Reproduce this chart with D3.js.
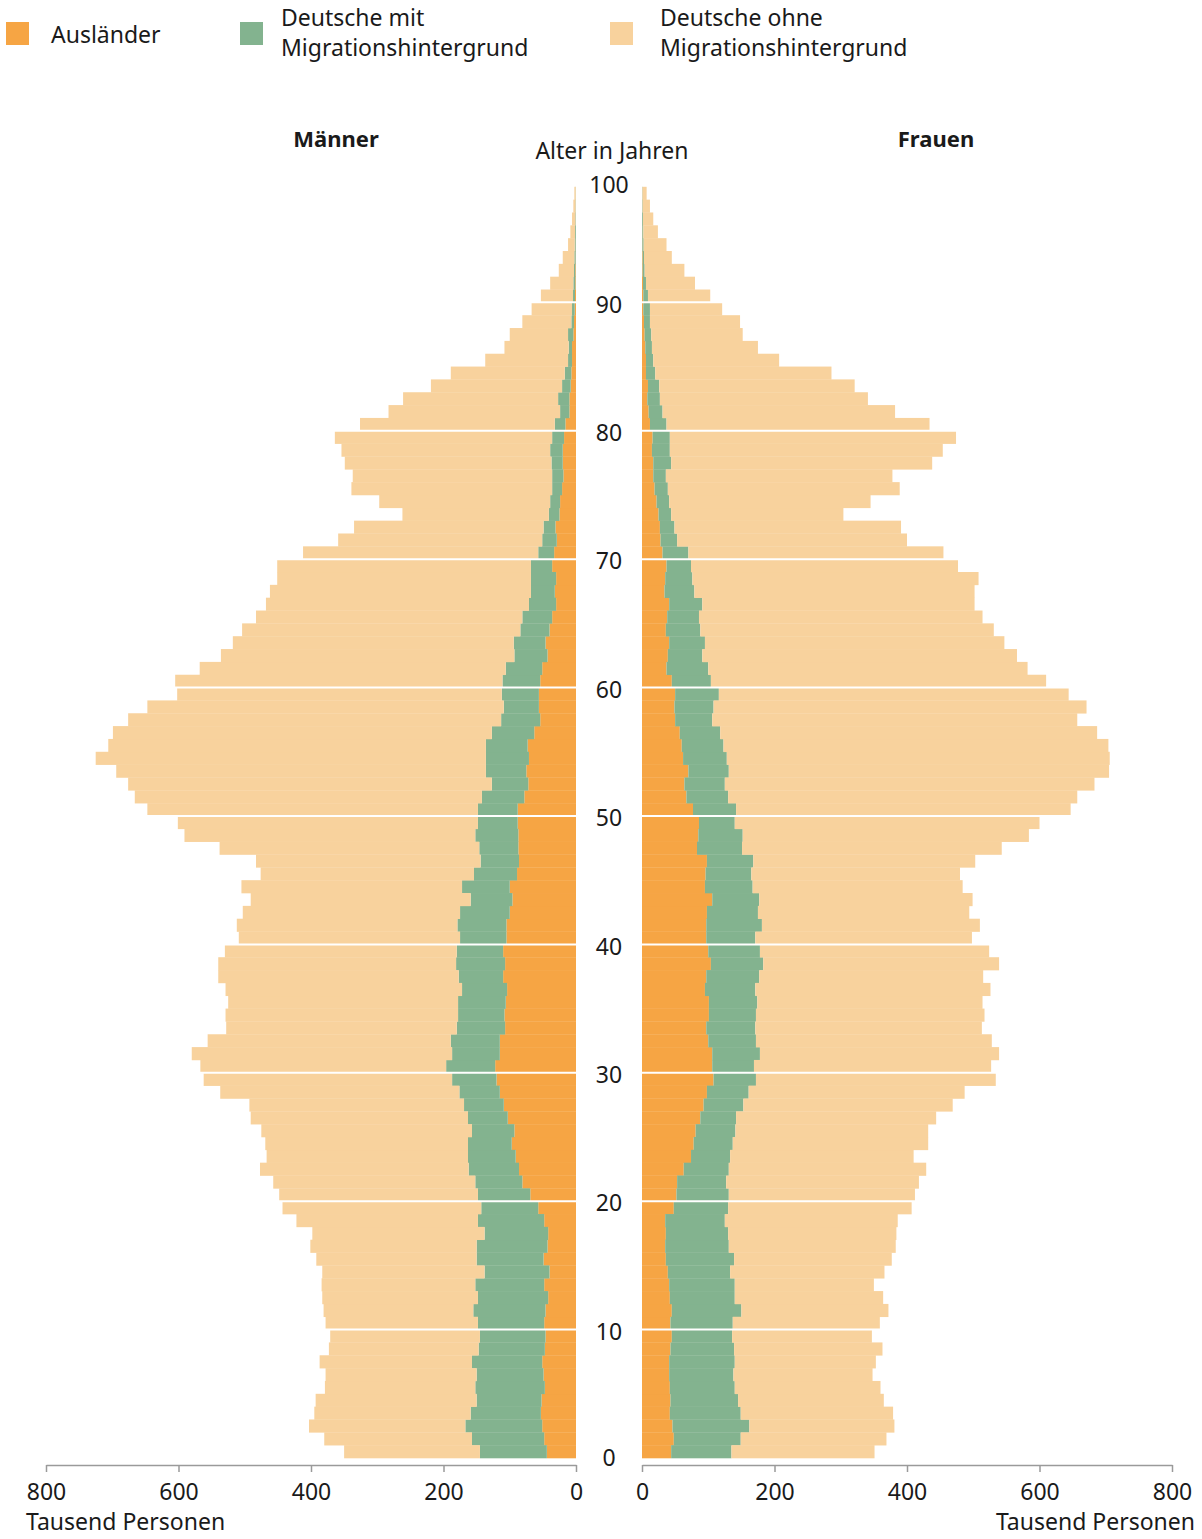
<!DOCTYPE html>
<html>
<head>
<meta charset="utf-8">
<script src="https://cdn.jsdelivr.net/npm/d3@7"></script>
<style>
  body { margin: 0; background: #fff; }
  svg { display: block; }
  text { font-family: "Noto Sans", sans-serif; fill: #1a1a1a; }
</style>
</head>
<body>
<svg id="chart" width="1202" height="1539"></svg>
<script>
// Bevoelkerung nach Alter (Tausend Personen), Alter 0 .. 98
var maennerAuslaender = [
  44, 48, 51, 53, 52, 47, 49, 51, 47, 46,
  48, 46, 42, 48, 40, 49, 43, 42, 48, 57,
  69, 81, 86, 91, 97, 93, 103, 109, 115, 120,
  122, 115, 115, 107, 108, 106, 104, 110, 107, 110,
  105, 105, 100, 96, 100, 89, 86, 87, 87, 88,
  88, 78, 72, 75, 71, 73, 63, 54, 56, 56,
  54, 51, 43, 46, 40, 36, 30, 32, 30, 36,
  33, 29, 31, 25, 24, 21, 19, 20, 20, 18,
  16, 10, 10, 8, 7, 6, 6, 4, 3, 2,
  1.5, 1, 1, 0.5, 0.5, 0.3, 0.2, 0.1, 0.1
];
var maennerMit = [
  101, 109, 116, 106, 98, 105, 101, 106, 100, 99,
  100, 109, 106, 104, 98, 101, 107, 96, 100, 86,
  79, 71, 76, 72, 66, 64, 60, 60, 61, 67,
  74, 72, 74, 73, 70, 72, 68, 67, 74, 70,
  70, 74, 75, 63, 72, 65, 58, 59, 65, 60,
  60, 64, 55, 61, 65, 63, 64, 59, 53, 56,
  57, 55, 50, 48, 44, 45, 41, 36, 38, 32,
  24, 22, 18, 16, 15, 15, 17, 17, 19, 18,
  16, 14, 17, 13, 10, 6, 5, 8, 4, 4,
  3, 3, 2, 2, 1.5, 1.2, 0.8, 0.6, 0.4
];
var maennerOhne = [
  205, 223, 236, 236, 243, 227, 228, 230, 226, 226,
  230, 226, 235, 232, 245, 242, 251, 260, 274, 300,
  300, 305, 315, 304, 306, 318, 328, 324, 361, 375,
  371, 393, 367, 348, 351, 347, 357, 363, 359, 350,
  334, 333, 328, 332, 333, 322, 339, 392, 439, 453,
  499, 524, 549, 558, 589, 570, 572, 563, 538, 490,
  494, 462, 443, 424, 420, 402, 397, 394, 383, 383,
  355, 308, 286, 221, 258, 303, 301, 312, 315, 328,
  294, 259, 234, 198, 172, 125, 97, 88, 74, 61,
  48.5, 35, 23, 17.5, 10, 7, 5, 3.3, 2
];
var frauenAuslaender = [
  44, 48, 46, 42, 43, 42, 41, 41, 43, 45,
  43, 45, 42, 41, 39, 36, 35, 36, 35, 48,
  52, 53, 63, 74, 78, 81, 88, 93, 98, 108,
  106, 106, 100, 97, 101, 101, 95, 97, 104, 100,
  97, 97, 98, 106, 95, 96, 98, 83, 85, 86,
  77, 67, 64, 70, 62, 60, 57, 50, 49, 50,
  45, 37, 39, 41, 36, 38, 41, 34, 35, 37,
  31, 28, 27, 25, 22, 19, 17, 17, 15, 16,
  12, 10, 8, 9, 6, 6, 5, 4, 3, 2,
  2, 1.5, 1, 1, 0.5, 0.5, 0.3, 0.2, 0.1
];
var frauenMit = [
  91, 101, 116, 107, 102, 98, 97, 99, 96, 91,
  94, 105, 98, 99, 94, 103, 96, 94, 90, 82,
  79, 74, 68, 59, 59, 60, 54, 60, 63, 64,
  63, 72, 72, 74, 71, 73, 76, 80, 79, 78,
  74, 84, 77, 71, 72, 69, 70, 68, 67, 54,
  65, 63, 61, 61, 66, 63, 61, 56, 59, 66,
  59, 63, 52, 54, 52, 48, 50, 45, 41, 37,
  39, 25, 22, 19, 19, 20, 19, 27, 27, 26,
  25, 21, 19, 17, 14, 11, 10, 10, 9, 10,
  7, 4.5, 3, 2, 2, 1.5, 1.2, 0.8, 0.6
];
var frauenOhne = [
  216, 220, 219, 230, 220, 220, 210, 213, 224, 211,
  222, 222, 224, 210, 233, 238, 252, 254, 261, 277,
  281, 291, 298, 277, 295, 291, 302, 316, 326, 362,
  358, 361, 356, 342, 345, 340, 355, 338, 356, 346,
  327, 329, 319, 322, 317, 315, 335, 392, 432, 460,
  505, 527, 558, 574, 578, 581, 569, 551, 563, 528,
  506, 482, 475, 452, 443, 428, 411, 423, 432, 403,
  385, 347, 342, 260, 304, 350, 342, 394, 412, 432,
  397, 351, 314, 295, 266, 190, 160, 138, 136, 109,
  94, 74, 60, 42, 34.5, 22, 15.5, 11, 6.3
];

var keys = ['auslaender', 'mit', 'ohne'];
var legendLabels = [['Ausländer'], ['Deutsche mit', 'Migrationshintergrund'], ['Deutsche ohne', 'Migrationshintergrund']];
var ageTicks = [0, 10, 20, 30, 40, 50, 60, 70, 80, 90, 100];
var gridAges = [10, 20, 30, 40, 50, 60, 70, 80, 90];
var valueTicks = [0, 200, 400, 600, 800];

var color = d3.scaleOrdinal()
    .domain(keys)
    .range(['#f6a544', '#83b38f', '#f8d29d']);

var svg = d3.select('#chart');

var nAges = maennerAuslaender.length;
var y = d3.scaleLinear().domain([0, nAges]).range([1458, 186.8]);
var xMen = d3.scaleLinear().domain([0, 800]).range([576, 46]);
var xWomen = d3.scaleLinear().domain([0, 800]).range([642, 1172]);

function rows(a, m, o) {
  return a.map(function (v, i) { return {age: i, auslaender: v, mit: m[i], ohne: o[i]}; });
}

var stack = d3.stack().keys(keys);

function drawSide(data, x) {
  var layer = svg.append('g').selectAll('g')
      .data(stack(data))
    .enter().append('g')
      .attr('fill', function (d) { return color(d.key); });

  layer.selectAll('rect')
      .data(function (d) { return d; })
    .enter().append('rect')
      .attr('x', function (d) { return Math.min(x(d[0]), x(d[1])); })
      .attr('width', function (d) { return Math.abs(x(d[1]) - x(d[0])); })
      .attr('y', function (d) { return y(d.data.age + 1); })
      .attr('height', function (d) { return y(d.data.age) - y(d.data.age + 1) + 0.3; });

  svg.append('g').selectAll('line')
      .data(gridAges)
    .enter().append('line')
      .attr('x1', x(0))
      .attr('x2', x(800))
      .attr('y1', function (d) { return y(d); })
      .attr('y2', function (d) { return y(d); })
      .attr('stroke', '#fff')
      .attr('stroke-width', 2);

  var axis = svg.append('g')
      .attr('transform', 'translate(0,1465)')
      .call(d3.axisBottom(x).tickValues(valueTicks).tickSize(7).tickSizeOuter(0).tickPadding(12));
  axis.attr('font-family', null).attr('font-size', 23);
  axis.select('.domain').attr('stroke', '#9a9a9a').attr('stroke-width', 1.5);
  axis.selectAll('line').attr('stroke', '#9a9a9a').attr('stroke-width', 1.5);
  axis.selectAll('text').attr('fill', '#1a1a1a');
}

drawSide(rows(maennerAuslaender, maennerMit, maennerOhne), xMen);
drawSide(rows(frauenAuslaender, frauenMit, frauenOhne), xWomen);

// Alter
svg.append('g').selectAll('text')
    .data(ageTicks)
  .enter().append('text')
    .attr('x', 609)
    .attr('y', function (d) { return d > nAges ? y(nAges) - 2 : y(d) + (d ? 2 : 0); })
    .attr('dy', '0.36em')
    .attr('text-anchor', 'middle')
    .attr('font-size', 23)
    .text(function (d) { return d; });

svg.append('text')
    .attr('x', 612).attr('y', 159)
    .attr('text-anchor', 'middle')
    .attr('font-size', 23)
    .text('Alter in Jahren');

svg.append('text')
    .attr('x', 336).attr('y', 147)
    .attr('text-anchor', 'middle')
    .attr('font-size', 22)
    .attr('font-weight', 700)
    .text('Männer');

svg.append('text')
    .attr('x', 936).attr('y', 147)
    .attr('text-anchor', 'middle')
    .attr('font-size', 22)
    .attr('font-weight', 700)
    .text('Frauen');

svg.append('text')
    .attr('x', 26).attr('y', 1530)
    .attr('font-size', 23)
    .text('Tausend Personen');

svg.append('text')
    .attr('x', 1195).attr('y', 1530)
    .attr('text-anchor', 'end')
    .attr('font-size', 23)
    .text('Tausend Personen');

// Legende
var legendX = [6, 240, 610];
var legendTextX = [45, 41, 50];
var legend = svg.append('g').selectAll('g')
    .data(keys)
  .enter().append('g')
    .attr('transform', function (d, i) { return 'translate(' + legendX[i] + ',22)'; });

legend.append('rect')
    .attr('width', 23)
    .attr('height', 23)
    .attr('fill', function (d) { return color(d); });

legend.each(function (d, i) {
  var lines = legendLabels[i];
  d3.select(this).selectAll('text')
      .data(lines)
    .enter().append('text')
      .attr('x', legendTextX[i])
      .attr('y', function (t, j) { return lines.length === 1 ? 21 : 4 + j * 30; })
      .attr('font-size', 23)
      .text(function (t) { return t; });
});
</script>
</body>
</html>
